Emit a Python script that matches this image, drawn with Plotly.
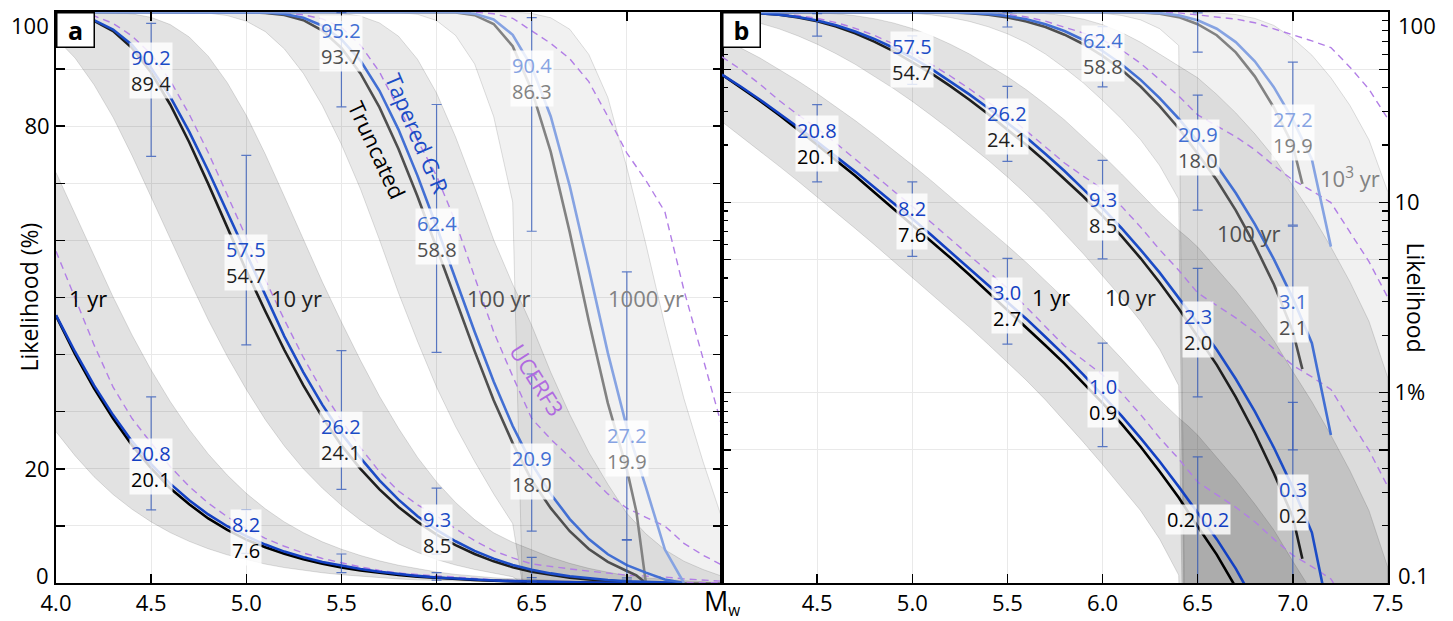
import numpy as np
import plotly.graph_objects as go

# ---------------- data ----------------
# magnitude grids
M_TAP = [4.0, 4.1, 4.2, 4.3, 4.4, 4.5, 4.6, 4.7, 4.8, 4.9, 5.0, 5.1, 5.2, 5.3, 5.4, 5.5, 5.6, 5.7,
         5.8, 5.9, 6.0, 6.1, 6.2, 6.3, 6.4, 6.5, 6.6, 6.7, 6.8, 6.9, 7.0, 7.1, 7.2, 7.3]
M_TRUNC = [4.0, 4.1, 4.2, 4.3, 4.4, 4.5, 4.6, 4.7, 4.8, 4.9, 5.0, 5.1, 5.2, 5.3, 5.4, 5.5, 5.6, 5.7,
           5.8, 5.9, 6.0, 6.1, 6.2, 6.3, 6.4, 6.5, 6.6, 6.7, 6.8, 6.9, 7.0, 7.05, 7.1]
M_BAND = [4.0, 4.1, 4.2, 4.3, 4.4, 4.5, 4.6, 4.7, 4.8, 4.9, 5.0, 5.1, 5.2, 5.3, 5.4, 5.5, 5.6, 5.7,
          5.8, 5.9, 6.0, 6.1, 6.2, 6.3, 6.4, 6.45, 6.5, 6.6, 6.7, 6.8, 6.9, 7.0, 7.1, 7.2, 7.3, 7.4, 7.5]
M_UCERF = [4.0, 4.1, 4.2, 4.3, 4.4, 4.5, 4.6, 4.7, 4.8, 4.9, 5.0, 5.1, 5.2, 5.3, 5.4, 5.5, 5.6, 5.7,
           5.8, 5.9, 6.0, 6.1, 6.2, 6.3, 6.4, 6.5, 6.6, 6.7, 6.8, 6.9, 7.0, 7.1, 7.2, 7.3, 7.4, 7.5]

# Tapered G-R likelihood (%) for 1, 10, 100, 1000 yr
TAP_1 = [46.9, 40.5, 34.6, 29.4, 24.8, 20.8, 17.4, 14.5, 12.0, 9.94, 8.20, 6.73, 5.50, 4.51, 3.67,
         3.00, 2.44, 1.96, 1.57, 1.24, 0.972, 0.756, 0.577, 0.435, 0.321, 0.234, 0.170, 0.119,
         0.080, 0.052, 0.032, 0.018, 0.006, 0]
TAP_10 = [99.82, 99.44, 98.57, 96.92, 94.22, 90.2, 85.19, 79.05, 72.2, 64.9, 57.5, 50.2, 43.2, 36.9,
          31.2, 26.2, 21.9, 17.96, 14.6, 11.7, 9.31, 7.31, 5.63, 4.27, 3.17, 2.32, 1.68, 1.18, 0.797,
          0.515, 0.317, 0.184, 0.060, 0]
TAP_100 = [100, 100, 100, 100, 100, 100, 100, 100, 100, 100, 99.98, 99.91, 99.65, 99.0, 97.6, 95.2,
           91.5, 86.2, 79.4, 71.3, 62.4, 53.2, 44.0, 35.3, 27.5, 20.9, 15.6, 11.2, 7.69, 5.03, 3.13,
           1.82, 0.60, 0]
TAP_1000 = [100, 100, 100, 100, 100, 100, 100, 100, 100, 100, 100, 100, 100, 100, 100, 100, 100, 100,
            100, 100, 99.99, 99.95, 99.69, 98.7, 96.0, 90.4, 81.7, 69.5, 55.1, 40.3, 27.2, 16.8, 5.85, 0]

# Truncated G-R likelihood (%)
TR_1 = [46.8, 40.1, 34.1, 28.8, 24.1, 20.1, 16.6, 13.8, 11.3, 9.29, 7.60, 6.26, 5.11, 4.16, 3.37,
        2.72, 2.21, 1.77, 1.42, 1.12, 0.882, 0.685, 0.520, 0.385, 0.281, 0.198, 0.141, 0.095, 0.061,
        0.038, 0.022, 0.013, 0]
TR_10 = [99.82, 99.41, 98.45, 96.66, 93.67, 89.40, 83.8, 77.2, 69.9, 62.3, 54.7, 47.6, 40.8, 34.6,
         29.0, 24.1, 20.0, 16.4, 13.3, 10.7, 8.48, 6.64, 5.08, 3.79, 2.77, 1.97, 1.40, 0.947, 0.612,
         0.377, 0.222, 0.134, 0]
TR_100 = [100, 100, 100, 100, 100, 100, 100, 100, 100, 100, 99.96, 99.84, 99.48, 98.57, 96.76, 93.7,
          89.25, 83.3, 76.0, 67.7, 58.8, 49.7, 40.6, 32.0, 24.5, 18.0, 13.1, 9.07, 5.96, 3.71, 2.1,
          1.33, 0]
TR_1000 = [100, 100, 100, 100, 100, 100, 100, 100, 100, 100, 100, 100, 100, 100, 100, 100, 100, 100,
           100, 100, 99.99, 99.90, 99.45, 97.9, 94.0, 86.3, 75.5, 61.4, 45.9, 31.5, 19.9, 12.5, 0]

# confidence bands (%), upper / lower
B1_HI = [71.9, 64.6, 57.3, 50.1, 43.4, 37.3, 31.8, 26.9, 22.6, 18.9, 15.7, 13.0, 10.7, 8.81, 7.21,
         5.92, 4.82, 3.88, 3.11, 2.46, 1.93, 1.51, 1.17, 0.916, 0.737, 0.668, 0.598, 0.459, 0.349,
         0.260, 0.190, 0.130, 0.090, 0.060, 0.039, 0.024, 0.012]
B1_LO = [26.5, 22.3, 18.6, 15.5, 12.9, 10.7, 8.83, 7.29, 6.00, 4.93, 4.06, 3.31, 2.70, 2.21, 1.79,
         1.45, 1.16, 0.916, 0.707, 0.548, 0.419, 0.319, 0.240, 0.170, 0.110, 0, 0, 0, 0, 0, 0, 0, 0,
         0, 0, 0, 0]
B10_HI = [100.0, 100.0, 99.98, 99.91, 99.67, 99.06, 97.81, 95.63, 92.27, 87.63, 81.9, 75.1, 67.7,
          60.2, 52.7, 45.7, 39.0, 32.7, 27.1, 22.0, 17.7, 14.1, 11.1, 8.79, 7.13, 6.48, 5.82, 4.50,
          3.44, 2.57, 1.88, 1.29, 0.896, 0.598, 0.389, 0.240, 0.120]
B10_LO = [95.4, 91.95, 87.25, 81.55, 74.84, 67.7, 60.3, 53.1, 46.1, 39.7, 33.9, 28.6, 24.0, 20.0,
          16.6, 13.6, 11.0, 8.79, 6.85, 5.35, 4.11, 3.15, 2.37, 1.69, 1.09, 0, 0, 0, 0, 0, 0, 0, 0,
          0, 0, 0, 0]
B100_HI = [100, 100, 100, 100, 100, 100, 100, 100, 100, 100, 100, 100, 100, 99.99, 99.94, 99.78,
           99.29, 98.09, 95.76, 91.71, 85.8, 78.1, 69.3, 60.1, 52.3, 48.8, 45.1, 36.9, 29.5, 22.9,
           17.3, 12.2, 8.61, 5.82, 3.82, 2.37, 1.19]
B100_LO = [100, 100, 100, 100, 100, 100, 99.99, 99.95, 99.80, 99.37, 98.4, 96.56, 93.54, 89.25,
           83.6, 76.8, 69.0, 60.1, 50.8, 42.3, 34.3, 27.4, 21.3, 15.6, 10.4, 0, 0, 0, 0, 0, 0, 0, 0,
           0, 0, 0, 0]
B1000_HI = [100, 100, 100, 100, 100, 100, 100, 100, 100, 100, 100, 100, 100, 100, 100, 100, 100,
            100, 100, 100, 100, 100, 100, 99.99, 99.94, 99.88, 99.75, 98.99, 96.98, 92.57, 85.04,
            72.75, 59.34, 45.12, 32.3, 21.3, 11.3]
B1000_LO = [100, 100, 100, 100, 100, 100, 100, 100, 100, 100, 100, 100, 100, 100, 100, 100, 100,
            99.99, 99.92, 99.59, 98.5, 95.9, 90.9, 81.7, 66.7, 0, 0, 0, 0, 0, 0, 0, 0, 0, 0, 0, 0]

# UCERF3 likelihood (%)
U_1 = [58.1, 49.8, 41.7, 34.3, 28.8, 24.5, 20.4, 16.9, 14.0, 11.6, 9.52, 7.83, 6.43, 5.26, 4.30,
       3.54, 2.81, 2.22, 1.76, 1.48, 1.24, 0.995, 0.767, 0.578, 0.449, 0.339, 0.290, 0.250, 0.210,
       0.170, 0.140, 0.122, 0.105, 0.072, 0.050, 0.032]
U_10 = [99.97, 99.84, 99.34, 98.0, 95.8, 92.6, 88.0, 82.1, 75.4, 68.1, 60.5, 53.1, 46.1, 39.5, 33.6,
        28.5, 23.7, 19.5, 16.1, 13.7, 11.75, 9.52, 7.41, 5.64, 4.40, 3.34, 2.86, 2.47, 2.08, 1.69,
        1.39, 1.21, 1.04, 0.717, 0.499, 0.319]
U_100 = [100, 100, 100, 100, 100, 100, 100, 100, 100, 100, 100, 99.97, 99.87, 99.5, 98.8, 97.3, 94.2,
         89.5, 83.1, 77.5, 71.3, 63.2, 53.7, 44.0, 36.2, 28.8, 25.2, 22.1, 18.9, 15.6, 13.1, 11.5,
         9.97, 6.95, 4.88, 3.15]
U_1000 = [100, 100, 100, 100, 100, 100, 100, 100, 100, 100, 100, 100, 100, 100, 100, 100, 100, 100,
          100, 100, 100, 100, 99.95, 99.70, 98.9, 96.7, 94.5, 91.8, 87.8, 81.7, 75.3, 70.5, 65.0,
          51.3, 39.3, 27.4]

# error bars (%): magnitudes, low, high
EB_M_1 = [4.5, 5.0, 5.5, 6.0, 6.5]
EB_LO_1 = [12.8, 5.2, 1.80, 0.52, 0.05]
EB_HI_1 = [32.6, 12.8, 5.08, 1.82, 0.46]
EB_M_10 = [4.5, 5.0, 5.5, 6.0, 6.5, 7.0]
EB_LO_10 = [74.7, 41.7, 16.4, 5.04, 0.95, 0.05]
EB_HI_10 = [98.0, 74.9, 40.7, 16.6, 4.5, 0.89]
EB_M_100 = [5.5, 6.0, 6.5, 7.0]
EB_LO_100 = [83.4, 40.4, 9.1, 0.5]
EB_HI_100 = [99.9, 83.8, 36.6, 7.5]
EB_M_1000 = [6.5, 7.0]
EB_LO_1000 = [61.6, 7.6]
EB_HI_1000 = [99.0, 54.5]

# labelled magnitudes per panel
LBL_A = {1: [4.5, 5.0], 10: [4.5, 5.0, 5.5, 6.0], 100: [5.5, 6.0, 6.5], 1000: [6.5, 7.0]}
LBL_B = {1: [4.5, 5.0, 5.5, 6.0], 10: [5.0, 5.5, 6.0, 6.5, 7.0], 100: [6.0, 6.5, 7.0], 1000: [7.0]}
LBL_B_SPLIT = (1, 6.5)

X_TICKS = [4.0, 4.5, 5.0, 5.5, 6.0, 6.5, 7.0, 7.5]
XA_TEXT = ["4.0", "4.5", "5.0", "5.5", "6.0", "6.5", "7.0",
           "<span style='font-size:27px'>M</span><sub>w</sub>"]
XB_TEXT = ["", "4.5", "5.0", "5.5", "6.0", "6.5", "7.0", "7.5"]
YA_TICKS = [0, 10, 20, 30, 40, 50, 60, 70, 80, 90, 100]
YA_TEXT = ["", "", "20", "", "", "", "", "", "80", "", ""]
YA_END = [(0, "0"), (100, "100")]
YB_TICKS = [0.1, 0.5, 1, 5, 10, 50, 100]
YB_TEXT = ["", "", "1%", "", "10", "", ""]
YB_END = [(0.1, "0.1"), (100, "100")]
YB_MINOR = [0.2, 0.3, 0.4, 0.6, 0.7, 0.8, 0.9, 2, 3, 4, 6, 7, 8, 9, 20, 30, 40, 60, 70, 80, 90]

# ---------------- styling ----------------
FONT = "Open Sans"
TAP_COL = {1: "#1340c2", 10: "#1c4cc6", 100: "#426fd3", 1000: "#86a3e2"}
TR_COL = {1: "#000000", 10: "#1e1e1e", 100: "#4f4f4f", 1000: "#828282"}
BAND_FILL = {1: "rgba(0,0,0,0.115)", 10: "rgba(0,0,0,0.115)", 100: "rgba(0,0,0,0.085)",
             1000: "rgba(0,0,0,0.055)"}
BAND_EDGE = "rgba(0,0,0,0.16)"
UCERF_COL = "#b27ee6"
EB_COL = "rgba(45,85,185,0.75)"
GRID = "#e9e9e9"
LOG_FLOOR = 1e-3

TAP = {1: TAP_1, 10: TAP_10, 100: TAP_100, 1000: TAP_1000}
TR = {1: TR_1, 10: TR_10, 100: TR_100, 1000: TR_1000}
BANDS = {1: (B1_HI, B1_LO), 10: (B10_HI, B10_LO), 100: (B100_HI, B100_LO), 1000: (B1000_HI, B1000_LO)}
UC = {1: U_1, 10: U_10, 100: U_100, 1000: U_1000}
EB = {1: (EB_M_1, EB_LO_1, EB_HI_1), 10: (EB_M_10, EB_LO_10, EB_HI_10),
      100: (EB_M_100, EB_LO_100, EB_HI_100), 1000: (EB_M_1000, EB_LO_1000, EB_HI_1000)}
PERIODS = [1, 10, 100, 1000]


def lookup(ms, vals, m):
    d = {round(a, 2): v for a, v in zip(ms, vals)}
    return d[round(m, 2)]


fig = go.Figure()

for xa, ya, log in (("x", "y", False), ("x2", "y2", True)):
    # bands
    for p in [1000, 100, 10, 1]:
        hi, lo = np.array(BANDS[p][0], float), np.array(BANDS[p][1], float)
        if log:
            hi, lo = np.maximum(hi, LOG_FLOOR), np.maximum(lo, LOG_FLOOR)
        xs = list(M_BAND) + list(M_BAND[::-1])
        ys = list(hi) + list(lo[::-1])
        fig.add_trace(go.Scatter(x=xs, y=ys, fill="toself", fillcolor=BAND_FILL[p], mode="lines",
                                 line=dict(color=BAND_EDGE, width=0.8), xaxis=xa, yaxis=ya,
                                 hoverinfo="skip", showlegend=False))
    # UCERF3
    for p in PERIODS:
        fig.add_trace(go.Scatter(x=M_UCERF, y=UC[p], mode="lines",
                                 line=dict(color=UCERF_COL, width=1.4, dash="7px,5px"),
                                 xaxis=xa, yaxis=ya, showlegend=False, hoverinfo="skip"))
    # truncated and tapered curves
    for p in PERIODS:
        ytr = [v if (v > 0 or not log) else None for v in TR[p]]
        fig.add_trace(go.Scatter(x=M_TRUNC, y=ytr, mode="lines",
                                 line=dict(color=TR_COL[p], width=2.6), xaxis=xa, yaxis=ya,
                                 showlegend=False, hoverinfo="skip"))
    for p in PERIODS:
        ytp = [v if (v > 0 or not log) else None for v in TAP[p]]
        fig.add_trace(go.Scatter(x=M_TAP, y=ytp, mode="lines",
                                 line=dict(color=TAP_COL[p], width=2.6), xaxis=xa, yaxis=ya,
                                 showlegend=False, hoverinfo="skip"))
    # error bars
    for p in PERIODS:
        ms, lo, hi = EB[p]
        c = np.array([lookup(M_TAP, TAP[p], m) for m in ms])
        fig.add_trace(go.Scatter(x=ms, y=c, mode="markers",
                                 marker=dict(size=1, color="rgba(0,0,0,0)"),
                                 error_y=dict(type="data", symmetric=False,
                                              array=np.array(hi) - c, arrayminus=c - np.array(lo),
                                              color=EB_COL, thickness=1.2, width=5),
                                 xaxis=xa, yaxis=ya, showlegend=False, hoverinfo="skip"))

ann = []


def value_label(xref, yref, m, p, log):
    t = lookup(M_TAP, TAP[p], m)
    r = lookup(M_TRUNC, TR[p], m)
    if log:
        y = 0.5 * (np.log10(t) + np.log10(r))
    else:
        y = 0.5 * (t + r)
    txt = (f"<span style='color:{TAP_COL[p]}'>{t:.1f}</span><br>"
           f"<span style='color:{TR_COL[p]}'>{r:.1f}</span>")
    return dict(x=m, y=y, xref=xref, yref=yref, text=txt, showarrow=False,
                font=dict(family=FONT, size=20), bgcolor="rgba(255,255,255,0.82)",
                borderpad=1, align="center", xanchor="center", yanchor="middle")


for p, ms in LBL_A.items():
    for m in ms:
        ann.append(value_label("x", "y", m, p, False))
for p, ms in LBL_B.items():
    for m in ms:
        ann.append(value_label("x2", "y2", m, p, True))

# split label (truncated | tapered) at bottom of panel b
sp, sm = LBL_B_SPLIT
st, sr = lookup(M_TAP, TAP[sp], sm), lookup(M_TRUNC, TR[sp], sm)
sy = 0.5 * (np.log10(st) + np.log10(sr))
ann.append(dict(x=sm, y=sy, xref="x2", yref="y2", text=f"{sr:.1f}", showarrow=False,
                font=dict(family=FONT, size=20, color=TR_COL[sp]), bgcolor="rgba(255,255,255,0.82)",
                xanchor="right", yanchor="middle", xshift=-1, borderpad=1))
ann.append(dict(x=sm, y=sy, xref="x2", yref="y2", text=f"{st:.1f}", showarrow=False,
                font=dict(family=FONT, size=20, color=TAP_COL[sp]), bgcolor="rgba(255,255,255,0.82)",
                xanchor="left", yanchor="middle", xshift=1, borderpad=1))


# period names
def period_text(xref, yref, x, y, text, color):
    return dict(x=x, y=y, xref=xref, yref=yref, text=text, showarrow=False, xanchor="left",
                yanchor="middle", font=dict(family=FONT, size=22, color=color))


ann += [
    period_text("x", "y", 4.06, 50.0, "1 yr", "#000000"),
    period_text("x", "y", 5.12, 50.0, "10 yr", "#1e1e1e"),
    period_text("x", "y", 6.15, 50.0, "100 yr", "#4f4f4f"),
    period_text("x", "y", 6.89, 50.0, "1000 yr", "#828282"),
    period_text("x2", "y2", 5.62, np.log10(3.17), "1 yr", "#000000"),
    period_text("x2", "y2", 6.0, np.log10(3.17), "10 yr", "#1e1e1e"),
    period_text("x2", "y2", 6.59, np.log10(6.9), "100 yr", "#4f4f4f"),
    period_text("x2", "y2", 7.13, np.log10(13.5), "10<sup>3</sup> yr", "#828282"),
]

# model names (rotated)
ann += [
    dict(x=5.90, y=78.8, xref="x", yref="y", text="Tapered G-R", showarrow=False, textangle=67,
         font=dict(family=FONT, size=22, color="#1c4cc6")),
    dict(x=5.69, y=75.8, xref="x", yref="y", text="Truncated", showarrow=False, textangle=65,
         font=dict(family=FONT, size=22, color="#000000")),
    dict(x=6.53, y=35.5, xref="x", yref="y", text="UCERF3", showarrow=False, textangle=58,
         font=dict(family=FONT, size=22, color="#b06ae0")),
]

# panel letters
for xr, letter in (("x domain", "a"), ("x2 domain", "b")):
    ann.append(dict(x=0, y=1, xref=xr, yref="y domain", text=f"<b>{letter}</b>", showarrow=False,
                    xanchor="left", yanchor="top", bgcolor="white", bordercolor="black",
                    borderwidth=1.5, borderpad=2, width=32, height=29,
                    font=dict(family=FONT, size=25, color="black")))

# end tick labels nudged inside the frame (as in the original)
for v, t in YA_END:
    ann.append(dict(x=0, y=v, xref="x domain", yref="y", text=t, showarrow=False,
                    xanchor="right", yanchor="top" if v == 100 else "bottom",
                    xshift=-5, yshift=4 if v == 100 else -9,
                    font=dict(family=FONT, size=22, color="black")))
for v, t in YB_END:
    ann.append(dict(x=1, y=np.log10(v), xref="x2 domain", yref="y2", text=t, showarrow=False,
                    xanchor="left", yanchor="top" if v == 100 else "bottom",
                    xshift=8, yshift=4 if v == 100 else -9,
                    font=dict(family=FONT, size=22, color="black")))

# axis titles
ann.append(dict(x=0, y=0.5, xref="paper", yref="paper", text="Likelihood (%)", showarrow=False,
                textangle=-90, xanchor="center", yanchor="middle", xshift=-28,
                font=dict(family=FONT, size=23, color="black")))
ann.append(dict(x=1, y=0.5, xref="paper", yref="paper", text="Likelihood", showarrow=False,
                textangle=90, xanchor="center", yanchor="middle", xshift=28,
                font=dict(family=FONT, size=23, color="black")))

axis_common = dict(ticks="inside", ticklen=9, tickwidth=1.5, tickcolor="black", showline=True,
                   linecolor="black", linewidth=2, mirror="ticks", showgrid=True, gridcolor=GRID,
                   gridwidth=1, zeroline=False, automargin=False,
                   tickfont=dict(family=FONT, size=22, color="black"))

fig.update_layout(
    width=1453, height=621, margin=dict(l=56, r=65, t=12, b=38, autoexpand=False),
    plot_bgcolor="white", paper_bgcolor="white", showlegend=False, hovermode=False,
    font=dict(family=FONT, size=22, color="black"),
    xaxis=dict(domain=[0, 0.5], range=[4.0, 7.5], tickmode="array", tickvals=X_TICKS,
               ticktext=XA_TEXT, anchor="y", **axis_common),
    xaxis2=dict(domain=[0.5, 1], range=[4.0, 7.5], tickmode="array", tickvals=X_TICKS,
                ticktext=XB_TEXT, anchor="y2", **axis_common),
    yaxis=dict(range=[0, 100], tickmode="array", tickvals=YA_TICKS, ticktext=YA_TEXT,
               anchor="x", **axis_common),
    yaxis2=dict(type="log", range=[-1, 2], tickmode="array", tickvals=YB_TICKS, ticktext=YB_TEXT,
                anchor="x2", side="right",
                minor=dict(tickmode="array", tickvals=YB_MINOR, ticks="inside", ticklen=6,
                           tickcolor="black", tickwidth=1.2, showgrid=False),
                **axis_common),
    annotations=ann,
)

fig.write_html(
    "out.html",
    config={"displayModeBar": False, "staticPlot": True},
    post_script="document.body.style.margin='0';document.body.style.padding='0';"
                "document.body.style.overflow='hidden';",
)
